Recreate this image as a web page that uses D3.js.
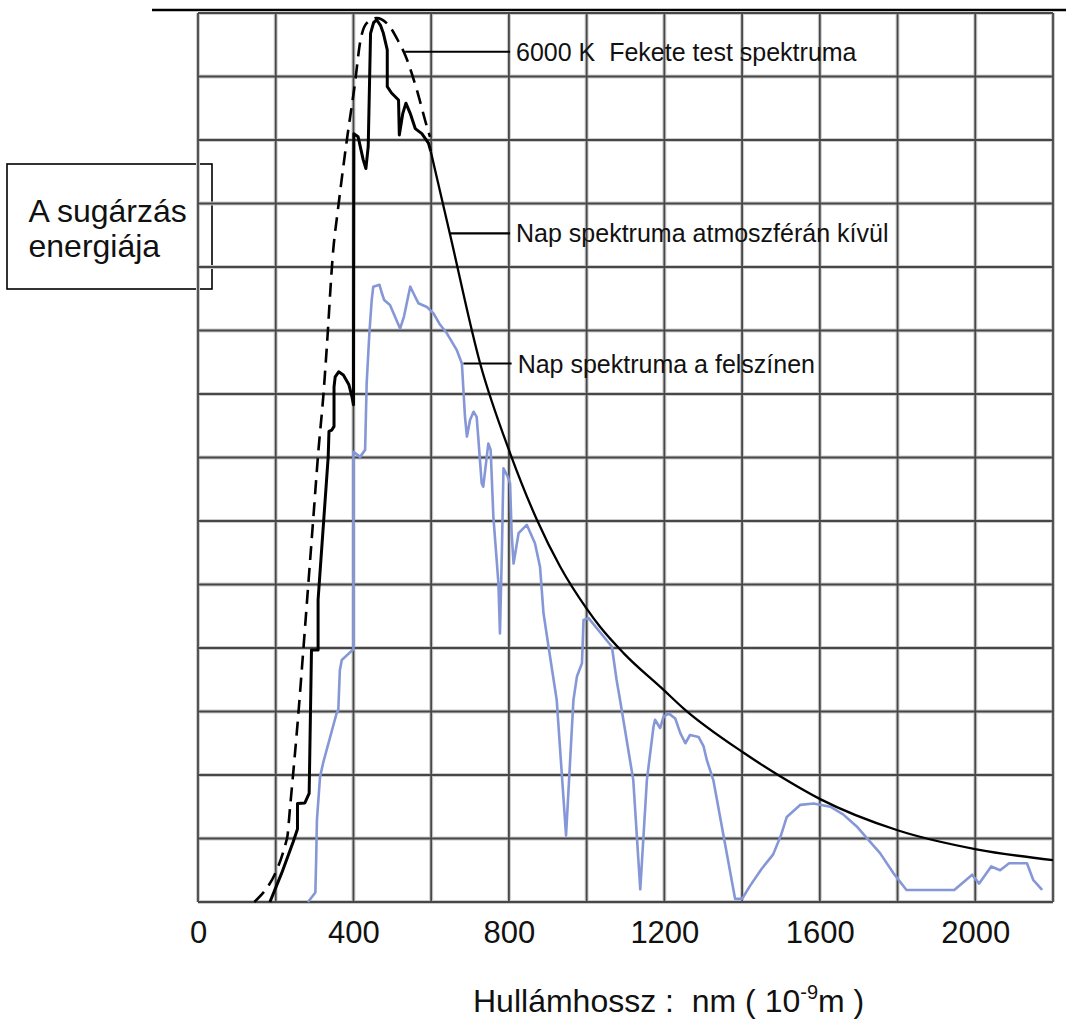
<!DOCTYPE html>
<html><head><meta charset="utf-8">
<script src="https://cdn.jsdelivr.net/npm/d3@7"></script>
<style>
body{margin:0;background:#fff}
svg{display:block}
text{font-family:"Liberation Sans",Arial,Helvetica,sans-serif;fill:#111}
</style>
</head><body>
<svg id="chart" width="1076" height="1030"></svg>
<script>
// ---------------- data ----------------
const xTickLabels = [0, 400, 800, 1200, 1600, 2000];
const gridNm = [0, 200, 400, 600, 800, 1000, 1200, 1400, 1600, 1800, 2000, 2200];
const gridEnergy = [0, 1, 2, 3, 4, 5, 6, 7, 8, 9, 10, 11, 12, 13, 14];

// 6000 K black body (dashed)
const blackbodyNm = [145, 229, 237, 245, 257, 271, 284, 297, 310, 323, 331, 348, 360, 383, 404, 417, 434, 460, 494, 516, 533, 563, 589, 597];
const blackbodyE  = [0, 1.0, 1.5, 2.03, 2.87, 3.97, 5.02, 6.07, 7.12, 8.01, 8.7, 10.27, 10.9, 12.0, 12.9, 13.53, 13.84, 13.92, 13.78, 13.55, 13.34, 12.79, 12.21, 12.05];

// Sun outside the atmosphere (solid black)
const outsideNm = [185, 215, 245, 256, 256, 275, 286, 292, 309, 309, 335, 337, 344, 350, 350, 353, 362, 374, 388, 396, 400, 401, 412, 425, 432, 438, 444, 452, 460, 470, 477, 487, 487, 498, 516, 518, 527, 535, 546, 559, 576, 593, 599, 649, 726, 803, 872, 932, 1000, 1035, 1095, 1198, 1249, 1404, 1498, 1601, 1800, 2003, 2200];
const outsideE  = [0, 0.45, 0.95, 1.15, 1.55, 1.56, 1.71, 3.97, 3.97, 4.76, 7.01, 7.41, 7.43, 7.49, 8.11, 8.27, 8.35, 8.30, 8.15, 7.96, 7.83, 12.1, 12.05, 11.69, 11.55, 11.9, 13.68, 13.85, 13.89, 13.8, 13.68, 13.42, 12.84, 12.74, 12.63, 12.08, 12.42, 12.58, 12.42, 12.18, 12.1, 11.95, 11.82, 10.5, 8.48, 7.07, 6.02, 5.28, 4.62, 4.33, 3.92, 3.34, 3.05, 2.35, 1.98, 1.62, 1.13, 0.83, 0.66];

// Sun at the surface (blue)
const surfaceNm = [283, 302, 304, 306, 314, 322, 357, 361, 365, 370, 398, 400, 400, 417, 430, 434, 441, 447, 451, 467, 473, 479, 494, 520, 530, 546, 554, 567, 589, 606, 623, 640, 666, 679, 683, 687, 692, 700, 709, 717, 721, 730, 734, 743, 747, 753, 760, 773, 777, 782, 786, 797, 803, 807, 812, 825, 846, 867, 880, 889, 902, 915, 923, 947, 966, 975, 988, 992, 1005, 1065, 1077, 1086, 1120, 1138, 1155, 1172, 1176, 1189, 1198, 1211, 1228, 1241, 1254, 1266, 1288, 1301, 1309, 1326, 1382, 1400, 1420, 1450, 1480, 1500, 1515, 1550, 1584, 1627, 1660, 1695, 1725, 1755, 1790, 1823, 1946, 1992, 2010, 2041, 2064, 2087, 2133, 2149, 2172];
const surfaceE  = [0, 0.15, 0.66, 1.29, 1.97, 2.19, 2.98, 3.02, 3.65, 3.81, 3.97, 3.97, 7.09, 7.01, 7.12, 8.17, 8.96, 9.48, 9.69, 9.72, 9.59, 9.48, 9.4, 9.03, 9.22, 9.69, 9.59, 9.43, 9.37, 9.27, 9.09, 8.96, 8.69, 8.48, 8.06, 7.64, 7.33, 7.59, 7.72, 7.64, 7.33, 6.59, 6.54, 7.01, 7.22, 7.12, 6.07, 5.02, 4.23, 5.54, 6.83, 6.7, 6.59, 5.81, 5.33, 5.81, 5.94, 5.65, 5.28, 4.55, 4.02, 3.5, 3.18, 1.05, 3.18, 3.55, 3.76, 4.44, 4.47, 4.02, 3.5, 3.18, 1.92, 0.2, 1.92, 2.76, 2.87, 2.74, 2.92, 2.97, 2.89, 2.66, 2.5, 2.63, 2.6, 2.45, 2.24, 1.92, 0.05, 0.05, 0.25, 0.52, 0.75, 1.05, 1.34, 1.53, 1.55, 1.5, 1.38, 1.19, 0.98, 0.77, 0.45, 0.19, 0.19, 0.43, 0.29, 0.56, 0.5, 0.61, 0.61, 0.35, 0.19];

// annotation labels: text, leader start nm, leader end nm, energy level
const annotationText = ["6000 K  Fekete test spektruma", "Nap spektruma atmoszférán kívül", "Nap spektruma a felszínen"];
const annotationFromNm = [533, 649, 683];
const annotationToNm = [803, 803, 807];
const annotationE = [13.39, 10.53, 8.48];

const yAxisTitle = ["A sugárzás", "energiája"];
const xAxisTitle = "Hullámhossz :  nm ( 10";
const xAxisTitleSup = "-9";
const xAxisTitleEnd = "m )";

// ---------------- drawing ----------------
const svg = d3.select("#chart");
const x = d3.scaleLinear().domain([0, 2200]).range([198, 1053]);
const y = d3.scaleLinear().domain([0, 14]).range([902, 13]);

// y title box (drawn first; grid passes over it)
const box = svg.append("g");
box.append("rect").attr("x", 7).attr("y", 164).attr("width", 205).attr("height", 125)
  .attr("fill", "#fff").attr("stroke", "#000").attr("stroke-width", 1.6);
box.selectAll("text").data(yAxisTitle).join("text")
  .attr("x", 28.5).attr("y", (d, i) => 222 + i * 34.5)
  .attr("font-size", 32).text(d => d);

// top rule
svg.append("line").attr("x1", 152).attr("x2", 1066).attr("y1", 10).attr("y2", 10)
  .attr("stroke", "#000").attr("stroke-width", 2.5);

// grid (halo + core to mimic the soft scan)
const grid = svg.append("g");
[["#cccccc", 4], ["#474747", 1.8]].forEach(([c, w]) => {
  grid.append("g").selectAll("line").data(gridNm).join("line")
    .attr("x1", d => x(d)).attr("x2", d => x(d))
    .attr("y1", y(0)).attr("y2", y(14))
    .attr("stroke", c).attr("stroke-width", w);
  grid.append("g").selectAll("line").data(gridEnergy).join("line")
    .attr("y1", d => y(d)).attr("y2", d => y(d))
    .attr("x1", x(0)).attr("x2", x(2200))
    .attr("stroke", c).attr("stroke-width", w);
});

const line = d3.line().x(d => x(d[0])).y(d => y(d[1])).curve(d3.curveLinear);
const smooth = d3.line().x(d => x(d[0])).y(d => y(d[1])).curve(d3.curveMonotoneX);

// surface spectrum (blue)
svg.append("path").datum(d3.zip(surfaceNm, surfaceE))
  .attr("d", line).attr("fill", "none")
  .attr("stroke", "#8597d6").attr("stroke-width", 2.6).attr("stroke-linejoin", "round");

// outside atmosphere (black): jagged part linear, tail smooth
const outside = d3.zip(outsideNm, outsideE);
const splitIdx = outsideNm.indexOf(599);
svg.append("path").datum(outside.slice(0, splitIdx + 1))
  .attr("d", line).attr("fill", "none")
  .attr("stroke", "#000").attr("stroke-width", 3).attr("stroke-linejoin", "round");
svg.append("path").datum(outside.slice(splitIdx))
  .attr("d", smooth).attr("fill", "none")
  .attr("stroke", "#000").attr("stroke-width", 2.3);

// 6000 K black body (dashed)
svg.append("path").datum(d3.zip(blackbodyNm, blackbodyE))
  .attr("d", smooth)
  .attr("fill", "none").attr("stroke", "#000").attr("stroke-width", 2.6)
  .attr("stroke-dasharray", "14,8");

// annotations
const ann = svg.append("g");
annotationText.forEach((t, i) => {
  ann.append("line")
    .attr("x1", x(annotationFromNm[i])).attr("x2", x(annotationToNm[i]))
    .attr("y1", y(annotationE[i])).attr("y2", y(annotationE[i]))
    .attr("stroke", "#000").attr("stroke-width", 2.2);
  ann.append("text")
    .attr("x", x(annotationToNm[i]) + 6).attr("y", y(annotationE[i]))
    .attr("dy", "0.36em").attr("font-size", 25)
    .attr("xml:space", "preserve").style("white-space", "pre").text(t);
});

// x tick labels
const xAxis = d3.axisBottom(x).tickValues(xTickLabels).tickFormat(d3.format("d"))
  .tickSize(0).tickPadding(19);
const gx = svg.append("g").attr("transform", `translate(0,${y(0)})`).call(xAxis);
gx.select(".domain").remove();
gx.selectAll("text").attr("font-size", 31).attr("fill", "#111")
  .style("font-family", '"Liberation Sans",Arial,sans-serif');

// x title
const title = svg.append("text").attr("x", 473).attr("y", 1012).attr("font-size", 32)
  .attr("xml:space", "preserve").style("white-space", "pre");
title.append("tspan").text(xAxisTitle);
title.append("tspan").attr("font-size", 20).attr("dy", -13).text(xAxisTitleSup);
title.append("tspan").attr("dy", 13).text(xAxisTitleEnd);
</script>
</body></html>
